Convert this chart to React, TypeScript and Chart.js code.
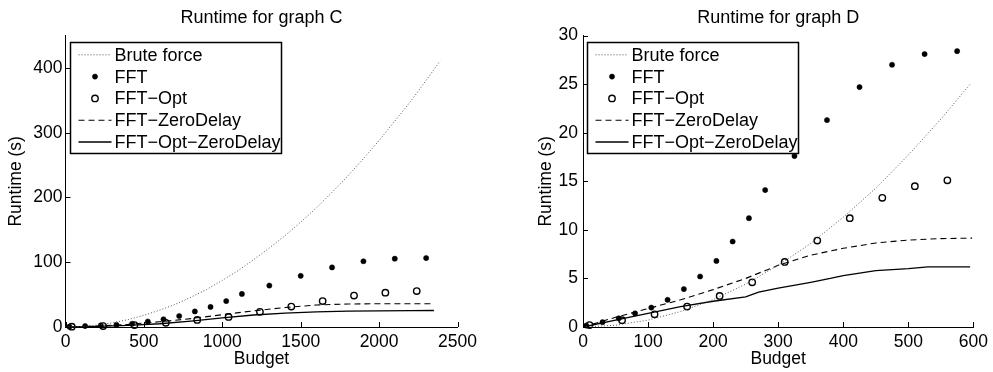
import React, { useEffect, useRef } from 'react';
import { Chart, registerables } from 'chart.js';

Chart.register(...registerables);

const FONT = '"Liberation Sans", Arial, Helvetica, sans-serif';

const SERIES_LABELS = ['Brute force', 'FFT', 'FFT\u2212Opt', 'FFT\u2212ZeroDelay', 'FFT\u2212Opt\u2212ZeroDelay'];

// ---------- Graph C ----------
const C_TITLE = 'Runtime for graph C';
const C_X_TICKS = [0, 500, 1000, 1500, 2000, 2500];
const C_Y_TICKS = [0, 100, 200, 300, 400];
const C_X_MAX = 2500;
const C_Y_MAX = 450;

const C_BRUTE_X = [0, 100, 200, 300, 400, 500, 600, 700, 800, 900, 1000, 1100, 1200, 1300, 1400, 1500, 1600, 1700, 1800, 1900, 2000, 2100, 2200, 2300, 2390];
const C_BRUTE_Y = [0, 0.7, 2.9, 6.5, 11.5, 18, 26, 35, 46, 58, 72, 87, 104, 122, 141, 162, 184, 208, 233, 260, 288, 318, 348, 381, 411];

const C_FFT_X = [25, 125, 225, 325, 425, 525, 625, 725, 825, 925, 1025, 1125, 1300, 1500, 1700, 1900, 2100, 2300];
const C_FFT_Y = [0.5, 1.5, 2.5, 3.5, 5, 8.5, 12, 17, 24, 31, 40, 51, 64, 79, 92, 101.5, 105.5, 106.5];

const C_OPT_X = [40, 240, 440, 640, 840, 1040, 1240, 1440, 1640, 1840, 2040, 2240];
const C_OPT_Y = [0.5, 1.5, 3, 6.5, 11, 15.5, 23.5, 31.5, 40, 48.5, 53, 55.5];

const C_ZD_X = [0, 200, 400, 600, 800, 1000, 1200, 1400, 1600, 1800, 2000, 2200, 2350];
const C_ZD_Y = [0, 1.5, 4, 8, 13, 19, 25, 30, 34, 35.5, 36, 36, 36];

const C_OZD_X = [0, 200, 400, 600, 800, 1000, 1200, 1400, 1600, 1800, 2000, 2200, 2350];
const C_OZD_Y = [0, 1, 2.5, 5, 9, 14, 18.5, 21.5, 23.5, 24.5, 25, 25.3, 25.5];

// ---------- Graph D ----------
const D_TITLE = 'Runtime for graph D';
const D_X_TICKS = [0, 100, 200, 300, 400, 500, 600];
const D_Y_TICKS = [0, 5, 10, 15, 20, 25, 30];
const D_X_MAX = 600;
const D_Y_MAX = 30;

const D_BRUTE_X = [0, 50, 100, 150, 200, 250, 300, 350, 400, 450, 500, 550, 595];
const D_BRUTE_Y = [0, 0.18, 0.71, 1.59, 2.82, 4.41, 6.35, 8.6, 11.3, 14.3, 17.7, 21.4, 25.0];

const D_FFT_X = [5, 30, 55, 80, 105, 130, 155, 180, 205, 230, 255, 280, 325, 375, 425, 475, 525, 575];
const D_FFT_Y = [0.15, 0.5, 0.9, 1.4, 2.0, 2.8, 3.9, 5.2, 6.8, 8.8, 11.2, 14.1, 17.6, 21.3, 24.7, 27.0, 28.1, 28.4];

const D_OPT_X = [10, 60, 110, 160, 210, 260, 310, 360, 410, 460, 510, 560];
const D_OPT_Y = [0.2, 0.7, 1.3, 2.1, 3.2, 4.6, 6.7, 8.9, 11.2, 13.3, 14.5, 15.1];

const D_ZD_X = [0, 50, 100, 150, 200, 250, 300, 350, 400, 450, 500, 550, 598];
const D_ZD_Y = [0, 1.0, 1.9, 2.8, 3.85, 5.0, 6.35, 7.4, 8.1, 8.65, 8.95, 9.1, 9.15];

const D_OZD_X = [0, 50, 100, 150, 200, 250, 270, 300, 350, 380, 400, 450, 500, 530, 595];
const D_OZD_Y = [0, 0.7, 1.4, 2.1, 2.65, 3.1, 3.6, 4.0, 4.6, 5.0, 5.3, 5.8, 6.0, 6.2, 6.2];

const pts = (xs: number[], ys: number[]) => xs.map((x, i) => ({ x, y: ys[i] }));

function buildDatasets(g: any) {
  return [
    {
      label: SERIES_LABELS[0], data: pts(g.bx, g.by), showLine: true,
      borderColor: '#555', borderWidth: 1, borderDash: [1, 2], pointRadius: 0, pointHoverRadius: 0, clip: false,
    },
    {
      label: SERIES_LABELS[1], data: pts(g.fx, g.fy), showLine: false,
      pointRadius: 2.6, pointHoverRadius: 2.6, pointBackgroundColor: '#000', pointBorderColor: '#000', pointBorderWidth: 0.5, clip: false,
    },
    {
      label: SERIES_LABELS[2], data: pts(g.ox, g.oy), showLine: false,
      pointRadius: 3.2, pointHoverRadius: 3.2, pointBackgroundColor: 'rgba(0,0,0,0)', pointBorderColor: '#000', pointBorderWidth: 1.4, clip: false,
    },
    {
      label: SERIES_LABELS[3], data: pts(g.zx, g.zy), showLine: true,
      borderColor: '#000', borderWidth: 1.1, borderDash: [6, 4], pointRadius: 0, pointHoverRadius: 0, clip: false,
    },
    {
      label: SERIES_LABELS[4], data: pts(g.ozx, g.ozy), showLine: true,
      borderColor: '#000', borderWidth: 1.3, pointRadius: 0, pointHoverRadius: 0, clip: false,
    },
  ];
}

const decorPlugin = {
  id: 'matlabDecor',
  afterDraw(chart: any) {
    const { ctx, chartArea, scales } = chart;
    ctx.save();
    // inward ticks
    ctx.strokeStyle = '#000';
    ctx.lineWidth = 1;
    ctx.setLineDash([]);
    const xs = scales.x, ys = scales.y;
    xs.ticks.forEach((t: any) => {
      const p = Math.round(xs.getPixelForValue(t.value)) + 0.5;
      ctx.beginPath();
      ctx.moveTo(p, chartArea.bottom);
      ctx.lineTo(p, chartArea.bottom - 5);
      ctx.stroke();
    });
    ys.ticks.forEach((t: any) => {
      const p = Math.round(ys.getPixelForValue(t.value)) + 0.5;
      ctx.beginPath();
      ctx.moveTo(chartArea.left, p);
      ctx.lineTo(chartArea.left + 5, p);
      ctx.stroke();
    });
    // legend box
    const x0 = Math.round(chartArea.left + 4) + 0.5;
    const y0 = Math.round(chartArea.top + 6.5) + 0.5;
    const w = 211, h = 111;
    ctx.fillStyle = '#fff';
    ctx.fillRect(x0, y0, w, h);
    ctx.strokeStyle = '#000';
    ctx.lineWidth = 1.5;
    ctx.strokeRect(x0, y0, w, h);
    chart.data.datasets.forEach((ds: any, i: number) => {
      const cy = y0 + 12.3 + i * 21.8;
      const sx0 = x0 + 8, sx1 = x0 + 41, mx = (sx0 + sx1) / 2;
      if (ds.showLine) {
        ctx.beginPath();
        ctx.setLineDash(ds.borderDash || []);
        ctx.strokeStyle = ds.borderColor;
        ctx.lineWidth = ds.borderWidth;
        ctx.moveTo(sx0, cy);
        ctx.lineTo(sx1, cy);
        ctx.stroke();
        ctx.setLineDash([]);
      } else {
        ctx.beginPath();
        ctx.arc(mx, cy, ds.pointRadius, 0, Math.PI * 2);
        ctx.fillStyle = ds.pointBackgroundColor;
        ctx.fill();
        ctx.strokeStyle = ds.pointBorderColor;
        ctx.lineWidth = ds.pointBorderWidth;
        ctx.stroke();
      }
      ctx.fillStyle = '#000';
      ctx.font = `18px ${FONT}`;
      ctx.textBaseline = 'middle';
      ctx.textAlign = 'left';
      ctx.fillText(ds.label, x0 + 44, cy + 1);
    });
    ctx.restore();
  },
};

function makeConfig(opts: any) {
  const tickFont = { family: FONT, size: 17.5 };
  return {
    type: 'scatter',
    data: { datasets: buildDatasets(opts.g) },
    plugins: [decorPlugin],
    options: {
      responsive: false,
      animation: false,
      events: [],
      layout: { padding: { left: 0, right: opts.padRight, top: 0, bottom: 0 } },
      plugins: {
        legend: { display: false },
        tooltip: { enabled: false },
        title: {
          display: true, text: opts.title, color: '#000', fullSize: false,
          font: { family: FONT, size: 18, weight: 'normal', lineHeight: 1.2 },
          padding: { top: 7, bottom: 7 },
        },
      },
      scales: {
        x: {
          type: 'linear', position: 'bottom', min: 0, max: opts.xMax,
          grid: { display: false, drawTicks: false },
          border: { display: true, color: '#000', width: 1 },
          ticks: {
            color: '#000', font: tickFont, padding: 5, maxRotation: 0, autoSkip: false,
            callback: (v: any) => String(v),
          },
          title: { display: true, text: 'Budget', color: '#000', font: tickFont, padding: { top: 0, bottom: 2.5 } },
          afterBuildTicks: (s: any) => { s.ticks = opts.xTicks.map((v: number) => ({ value: v })); },
          afterFit: (s: any) => { s.height = 45; },
        },
        y: {
          type: 'linear', position: 'left', min: 0, max: opts.yMax,
          grid: { display: false, drawTicks: false },
          border: { display: true, color: '#000', width: 1 },
          ticks: { color: '#000', font: tickFont, padding: opts.yPad, callback: (v: any) => String(v) },
          title: { display: true, text: 'Runtime (s)', color: '#000', font: tickFont, padding: { top: opts.yTitlePad, bottom: 0 } },
          afterBuildTicks: (s: any) => { s.ticks = opts.yTicks.map((v: number) => ({ value: v })); },
          afterFit: (s: any) => { s.width = opts.yWidth; },
        },
      },
    },
  };
}

function ChartCanvas(props: { cfg: any; left: number; width: number }) {
  const ref = useRef<HTMLCanvasElement | null>(null);
  useEffect(() => {
    if (!ref.current) return;
    const chart = new Chart(ref.current, props.cfg);
    return () => chart.destroy();
  }, []);
  return (
    <canvas
      ref={ref}
      width={props.width}
      height={372}
      style={{ position: 'absolute', left: props.left, top: 0, width: props.width, height: 372 }}
    />
  );
}

export default function App() {
  const cfgC = makeConfig({
    g: { bx: C_BRUTE_X, by: C_BRUTE_Y, fx: C_FFT_X, fy: C_FFT_Y, ox: C_OPT_X, oy: C_OPT_Y, zx: C_ZD_X, zy: C_ZD_Y, ozx: C_OZD_X, ozy: C_OZD_Y },
    title: C_TITLE, xMax: C_X_MAX, yMax: C_Y_MAX, xTicks: C_X_TICKS, yTicks: C_Y_TICKS,
    yWidth: 65.5, padRight: 38.5, yPad: 3, yTitlePad: 5.5,
  });
  const cfgD = makeConfig({
    g: { bx: D_BRUTE_X, by: D_BRUTE_Y, fx: D_FFT_X, fy: D_FFT_Y, ox: D_OPT_X, oy: D_OPT_Y, zx: D_ZD_X, zy: D_ZD_Y, ozx: D_OZD_X, ozy: D_OZD_Y },
    title: D_TITLE, xMax: D_X_MAX, yMax: D_Y_MAX, xTicks: D_X_TICKS, yTicks: D_Y_TICKS,
    yWidth: 87, padRight: 18, yPad: 5, yTitlePad: 40,
  });
  return (
    <div style={{ position: 'fixed', left: 0, top: 0, width: 993, height: 372, background: '#fff', overflow: 'hidden' }}>
      <ChartCanvas cfg={cfgC} left={0} width={496} />
      <ChartCanvas cfg={cfgD} left={496} width={497} />
    </div>
  );
}
